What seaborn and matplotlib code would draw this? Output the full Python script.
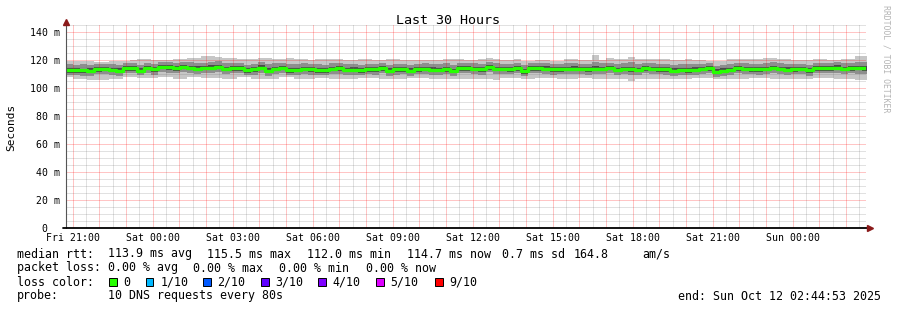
import numpy as np
import pandas as pd
import matplotlib
matplotlib.use("Agg")
import matplotlib.pyplot as plt
from matplotlib.patches import Rectangle
import seaborn as sns

# ---------------- data ----------------
median_ms = [112.6,112.6,112.6,112.4,113.3,113.6,113.1,112.4,114.3,114.3,
             112.4,114.5,113.3,115.2,114.8,114.3,115.2,114.5,113.8,114.5,
             114.5,115.2,113.8,114.3,114.3,112.6,113.3,114.5,112.4,113.8,
             114.5,112.9,112.9,113.8,113.3,112.6,112.6,113.6,114.0,113.1,
             113.1,112.6,113.3,113.3,114.3,112.4,113.3,113.3,112.4,113.6,
             113.6,113.1,113.1,113.6,112.4,114.0,114.3,113.8,113.3,115.0,
             113.8,113.8,113.3,114.3,112.1,114.0,114.3,113.8,113.3,113.3,
             113.8,113.8,113.8,113.3,113.8,113.8,114.5,113.1,113.8,113.6,
             113.1,114.3,113.8,113.3,113.3,112.4,113.1,112.9,113.1,113.6,
             114.0,111.7,112.4,113.1,114.3,113.8,113.3,113.3,113.6,114.5,
             113.8,113.1,113.3,113.6,112.6,114.3,114.3,114.3,114.5,113.8,
             114.3,114.3,114.3]

smoke_hi = [119.5,119.5,119.5,119.0,118.6,118.6,119.0,119.0,119.5,119.8,
            120.9,120.9,119.8,120.0,120.0,120.9,120.9,121.6,121.6,122.9,
            122.9,122.2,121.4,121.4,120.5,120.5,120.9,121.4,121.4,120.5,
            120.5,121.4,120.5,120.5,119.8,120.9,120.9,120.5,120.5,119.8,
            119.8,120.9,120.9,119.8,119.8,120.9,120.9,120.0,120.0,119.8,
            119.8,120.0,120.0,120.9,120.5,120.5,119.8,119.8,120.5,121.4,
            120.9,119.8,119.8,120.9,119.0,119.0,119.8,119.8,119.0,119.0,
            120.9,120.9,119.8,119.8,123.8,119.8,121.4,120.5,120.5,122.1,
            120.5,120.5,120.5,120.9,120.9,119.8,119.8,120.5,119.8,119.8,
            119.0,119.0,119.0,120.5,120.5,120.9,120.5,120.5,121.4,121.4,
            120.5,120.5,119.8,119.8,119.8,120.9,120.9,119.8,119.8,120.5,
            120.5,122.9,122.9]

smoke_mid_hi = [116.8,116.5,116.9,116.2,117.0,117.4,116.8,116.5,118.0,117.8,
                116.4,118.2,117.0,118.6,118.4,118.0,118.9,118.6,117.6,118.2,
                118.5,119.0,117.6,118.0,118.2,116.6,117.2,118.4,116.8,117.7,
                118.1,116.9,117.0,117.8,117.1,116.8,116.5,117.6,117.9,117.0,
                117.2,116.7,117.4,117.2,118.0,116.5,117.3,117.1,116.5,117.5,
                117.6,117.0,117.2,117.8,116.4,117.9,118.1,117.6,117.2,118.7,
                117.8,117.5,117.1,118.0,116.3,117.9,118.0,117.6,117.1,117.3,
                117.7,117.9,117.5,117.2,118.6,117.6,118.2,117.0,117.6,118.3,
                117.0,118.0,117.7,117.2,117.4,116.4,117.0,116.8,117.1,117.5,
                117.8,115.9,116.5,117.1,118.1,117.7,117.3,117.2,117.6,118.3,
                117.7,117.0,117.2,117.4,116.7,118.1,118.2,118.0,118.4,117.6,
                118.1,118.8,118.6]

smoke_core_hi = [114.0,114.3,113.9,114.1,114.8,115.0,114.6,114.0,115.6,115.8,
                 114.1,116.0,114.9,116.7,116.2,115.9,116.6,116.0,115.4,116.0,
                 116.1,116.6,115.3,115.7,115.9,114.2,114.8,116.1,114.0,115.3,
                 116.0,114.4,114.5,115.3,114.8,114.1,114.2,115.0,115.6,114.6,
                 114.7,114.2,114.8,114.9,115.7,114.0,114.8,114.8,114.0,115.1,
                 115.0,114.7,114.6,115.1,113.9,115.5,115.8,115.3,114.9,116.5,
                 115.3,115.2,114.9,115.8,113.7,115.6,115.8,115.4,114.8,114.9,
                 115.3,115.4,115.2,114.8,115.5,115.3,116.0,114.6,115.3,115.1,
                 114.6,115.8,115.3,114.8,114.9,114.0,114.6,114.4,114.7,115.1,
                 115.5,113.3,114.0,114.6,115.8,115.3,114.9,114.9,115.1,116.0,
                 115.3,114.7,114.9,115.2,114.2,115.9,115.8,115.8,116.1,115.3,
                 115.8,116.0,115.9]

smoke_core_lo = [110.8,110.9,110.7,110.5,111.5,111.8,111.2,110.6,112.4,112.5,
                 110.6,112.6,111.4,113.3,112.9,112.4,113.3,112.6,111.9,112.7,
                 112.7,113.3,112.0,112.4,112.5,110.8,111.4,112.6,110.5,112.0,
                 112.6,111.0,111.1,111.9,111.4,110.8,110.9,111.8,112.1,111.3,
                 111.2,110.8,111.5,111.4,112.4,110.6,111.5,111.5,110.5,111.7,
                 111.8,111.3,111.2,111.7,110.5,112.2,112.4,112.0,111.5,113.1,
                 112.0,111.9,111.5,112.4,110.3,112.1,112.5,112.0,111.4,111.5,
                 112.0,111.9,112.0,111.4,112.0,111.9,112.6,111.2,112.0,111.7,
                 111.3,112.4,111.9,111.5,111.4,110.6,111.3,111.0,111.3,111.8,
                 112.2,109.9,110.6,111.3,112.5,111.9,111.5,111.4,111.8,112.6,
                 111.9,111.2,111.5,111.8,110.8,112.4,112.5,112.4,112.6,112.0,
                 112.4,112.6,112.5]

smoke_mid_lo = [109.5,109.0,108.8,108.6,109.8,110.0,109.4,108.7,110.6,110.8,
                109.0,110.9,109.6,111.4,111.0,110.5,111.5,110.9,110.1,110.8,
                111.0,111.3,110.1,110.6,110.5,109.0,109.6,110.8,108.8,110.2,
                110.9,109.2,109.2,110.2,109.6,109.0,109.1,110.0,110.3,109.4,
                109.5,109.0,109.8,109.6,110.6,108.7,109.5,109.8,108.8,110.0,
                109.9,109.4,109.5,110.0,108.8,110.4,110.6,110.1,109.6,111.3,
                110.0,110.2,109.7,110.6,108.5,110.4,110.5,110.1,109.5,109.8,
                110.2,110.0,110.1,109.6,110.0,110.3,110.8,109.4,110.0,109.5,
                109.4,110.6,110.2,109.7,109.6,108.8,109.4,109.1,109.5,110.0,
                110.4,108.2,108.9,109.5,110.7,110.1,109.7,109.6,110.0,110.7,
                110.2,109.4,109.7,110.0,108.9,110.6,110.7,110.5,110.9,110.1,
                110.5,109.9,110.0]

smoke_lo = [107.9,106.7,106.7,105.5,105.5,105.5,106.7,106.7,107.9,107.9,
            107.1,107.1,107.1,107.9,107.9,106.7,106.7,107.9,107.9,107.1,
            107.1,107.1,106.7,106.7,107.9,107.9,106.2,106.2,106.7,106.7,
            107.9,107.9,106.7,106.7,106.7,107.1,107.1,106.2,106.2,106.7,
            106.7,107.1,107.1,107.1,106.2,106.2,106.7,106.7,107.1,107.1,
            107.1,106.7,106.7,106.2,106.2,106.2,106.7,106.7,106.2,106.2,
            105.5,107.1,107.1,107.1,106.7,106.7,107.1,107.1,107.1,106.7,
            106.7,106.7,107.1,107.1,106.7,106.7,106.2,106.2,106.2,105.0,
            106.7,106.7,106.7,106.2,106.2,106.7,106.7,106.7,107.1,107.1,
            107.1,106.2,106.2,106.7,106.7,106.7,107.1,107.1,107.1,106.2,
            106.2,106.2,106.7,106.7,106.7,107.1,107.1,107.1,106.7,106.7,
            106.7,105.5,105.5]

x_tick_labels = ["Fri 21:00", "Sat 00:00", "Sat 03:00", "Sat 06:00", "Sat 09:00",
                 "Sat 12:00", "Sat 15:00", "Sat 18:00", "Sat 21:00", "Sun 00:00"]
y_tick_values = [0, 20, 40, 60, 80, 100, 120, 140]
y_tick_labels = ["0  ", "20 m", "40 m", "60 m", "80 m", "100 m", "120 m", "140 m"]

loss_labels = ["0", "1/10", "2/10", "3/10", "4/10", "5/10", "9/10"]
loss_colors = ["#26ff00", "#00b8ff", "#0059ff", "#5e00ff", "#7e00ff", "#dd00ff", "#ff0000"]

title = "Last 30 Hours"
ylabel = "Seconds"
rtt_parts = ["median rtt:", "113.9 ms avg", "115.5 ms max", "112.0 ms min",
             "114.7 ms now", "0.7 ms sd", "164.8", "am/s"]
loss_parts = ["packet loss:", "0.00 % avg", "0.00 % max", "0.00 % min", "0.00 % now"]
probe_parts = ["probe:", "10 DNS requests every 80s"]
loss_color_title = "loss color:"
end_line = "end: Sun Oct 12 02:44:53 2025"
watermark = "RRDTOOL / TOBI OETIKER"

# ---------------- layout ----------------
W, H = 897, 310
MONO = "DejaVu Sans Mono"
sns.set_theme(style="white")
plt.rcParams["font.family"] = [MONO, "DejaVu Sans"]

fig = plt.figure(figsize=(W / 100, H / 100), dpi=100, facecolor="white")
ax_left, ax_right, ax_top, ax_bottom = 66, 866, 24, 228
ax = fig.add_axes([ax_left / W, (H - ax_bottom) / H, (ax_right - ax_left) / W, (ax_bottom - ax_top) / H])
ax.set_facecolor("white")

# time axis in hours relative to Fri 21:00; window = 30 h ending Sun 02:44:53
x_start = -(15 * 60 + 7) / 3600.0
x_end = x_start + 30.0
bin_h = 16 / 60.0
n = len(median_ms)
edges = x_start + bin_h * np.arange(n + 1)
y_top = (ax_bottom - ax_top) / 1.4


def ext(a):
    a = list(a)
    return np.array(a + [a[-1]])


bands = [
    (smoke_lo, smoke_mid_lo, "#c6c6c6"),
    (smoke_mid_lo, smoke_core_lo, "#8e8e8e"),
    (smoke_core_lo, median_ms, "#4a4a4a"),
    (median_ms, smoke_core_hi, "#4a4a4a"),
    (smoke_core_hi, smoke_mid_hi, "#8e8e8e"),
    (smoke_mid_hi, smoke_hi, "#c6c6c6"),
]
for lo, hi, c in bands:
    ax.fill_between(edges, ext(lo), ext(hi), step="post", color=c, linewidth=0, zorder=1)

df = pd.DataFrame({"t": edges, "median": ext(median_ms)})
sns.lineplot(data=df, x="t", y="median", ax=ax, drawstyle="steps-post",
             color="#26ff00", linewidth=2.4, zorder=3, legend=False)

ax.set_xlim(x_start, x_end)
ax.set_ylim(0, y_top)

# ticks
major_x = np.arange(0, 30, 1)
minor_x = [m for m in np.arange(-0.5, 30, 0.5) if abs(m - round(m)) > 0.1 and x_start < m < x_end]
minor_y = [v for v in np.arange(5, y_top, 5) if v % 20 != 0]
ax.set_xticks(major_x)
ax.set_xticklabels([x_tick_labels[int(h) // 3] if int(h) % 3 == 0 else "" for h in major_x])
ax.set_xticks(minor_x, minor=True)
ax.set_yticks(y_tick_values)
ax.set_yticklabels(y_tick_labels)
ax.set_yticks(minor_y, minor=True)
ax.grid(False)

# grid: dotted lines
red_grid = (1.0, 0.0, 0.0, 0.45)
gray_grid = (0.45, 0.45, 0.45, 0.42)
ax.vlines(minor_x, 0, y_top, colors=[gray_grid], linewidths=0.72, linestyles=[(0, (1, 1))], zorder=2)
ax.hlines(minor_y, x_start, x_end, colors=[gray_grid], linewidths=0.72, linestyles=[(0, (1, 1))], zorder=2)
ax.vlines(major_x, 0, y_top, colors=[red_grid], linewidths=0.72, linestyles=[(0, (1, 1))], zorder=2)
ax.hlines(y_tick_values[1:], x_start, x_end, colors=[red_grid], linewidths=0.72, linestyles=[(0, (1, 1))], zorder=2)

ax.tick_params(axis="both", which="both", length=2, width=0.7, color="#b0b0b0")
ax.tick_params(axis="y", which="both", direction="out", pad=2.5)
ax.tick_params(axis="x", which="both", direction="out", pad=1.5)
for lab in ax.get_xticklabels() + ax.get_yticklabels():
    lab.set_fontfamily(MONO)
    lab.set_fontsize(7.1)
    lab.set_color("black")

for s in ax.spines.values():
    s.set_visible(False)
ax.set_xlabel("")
ax.set_ylabel("")

# axis lines and arrows
tr_ax = ax.transAxes
ax.plot([0, 0], [0, 1.01], transform=tr_ax, color="#555555", lw=0.8, clip_on=False, zorder=4)
ax.plot([-0.004, 1.005], [0, 0], transform=tr_ax, color="black", lw=1.3, clip_on=False, zorder=4)
ax.plot([0], [1.012], marker="^", markersize=5, color="#8b1a1a", transform=tr_ax, clip_on=False, zorder=5)
ax.plot([1.0055], [0], marker=">", markersize=5, color="#8b1a1a", transform=tr_ax, clip_on=False, zorder=5)


# texts
def fy(y):
    return 1 - y / H


def fx(x):
    return x / W


fig.text(fx(448), fy(23.5), title, ha="center", va="baseline", fontsize=9.6, family=MONO, color="black")
fig.text(fx(11), fy(127), ylabel, ha="center", va="center", rotation=90, fontsize=8.0, family=MONO, color="black")
fig.text(fx(886), fy(59), watermark, ha="center", va="center", rotation=270, fontsize=5.9, family=MONO, color="#b4b4b4")

fs = 8.4
kw = dict(ha="left", va="baseline", fontsize=fs, family=MONO, color="black")
rtt_x = [16.7, 107.7, 207.0, 307.3, 407.0, 501.7, 573.3, 642.7]
for t, x in zip(rtt_parts, rtt_x):
    fig.text(fx(x), fy(257.5), t, **kw)
loss_x = [16.7, 107.7, 193.3, 279.3, 365.7]
for t, x in zip(loss_parts, loss_x):
    fig.text(fx(x), fy(271.5), t, **kw)
fig.text(fx(16.7), fy(285.5), loss_color_title, **kw)
probe_x = [16.7, 107.7]
for t, x in zip(probe_parts, probe_x):
    fig.text(fx(x), fy(299.5), t, **kw)
fig.text(fx(881), fy(299.5), end_line, ha="right", va="baseline", fontsize=fs, family=MONO, color="black")

box_x = [109.0, 145.7, 203.0, 261.0, 318.3, 376.0, 435.0]
for lab, col, bx in zip(loss_labels, loss_colors, box_x):
    fig.patches.append(Rectangle((fx(bx), fy(285.5)), 7.5 / W, 7.5 / H, transform=fig.transFigure,
                                 facecolor=col, edgecolor="black", linewidth=0.7, figure=fig))
    fig.text(fx(bx + 14.5), fy(285.5), lab, **kw)

fig.savefig("out.png", dpi=100, facecolor="white")
